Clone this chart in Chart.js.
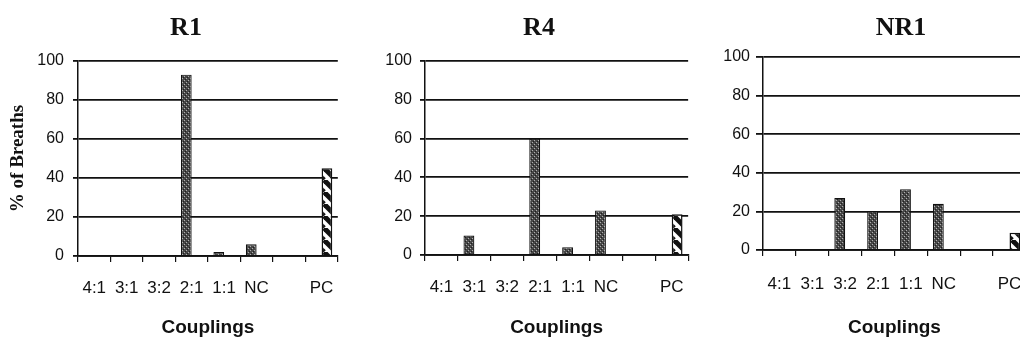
<!DOCTYPE html>
<html>
<head>
<meta charset="utf-8">
<script src="https://cdn.jsdelivr.net/npm/chart.js@4.4.1/dist/chart.umd.min.js"></script>
<style>
	html, body { margin: 0; padding: 0; background: #fff; }
	body { width: 1020px; height: 344px; overflow: hidden; position: relative; }
	canvas { position: absolute; top: 0; }
</style>
</head>
<body>
<canvas id="r1" width="350" height="344" style="left:0px"></canvas>
<canvas id="r4" width="350" height="344" style="left:350px"></canvas>
<canvas id="nr1" width="340" height="344" style="left:700px"></canvas>
<script>
// categorias (el hueco vacio antes de PC es parte del grafico original)
const couplings = ['4:1', '3:1', '3:2', '2:1', '1:1', 'NC', '', 'PC'];
const yTickValues = [0, 20, 40, 60, 80, 100];

const r1Stippled = [0, 0, 0, 93, 2, 6, null, null];
const r1Hatched  = [null, null, null, null, null, null, null, 45];

const r4Stippled = [0, 10, 0, 60, 4, 23, null, null];
const r4Hatched  = [null, null, null, null, null, null, null, 21];

const nr1Stippled = [0, 0, 27, 20, 31.5, 24, null, null];
const nr1Hatched  = [null, null, null, null, null, null, null, 9];

Chart.defaults.font.family = '"Liberation Sans", Arial, sans-serif';
Chart.defaults.color = '#111';

function stipple() {
	const c = document.createElement('canvas');
	c.width = 4; c.height = 4;
	const g = c.getContext('2d');
	g.fillStyle = '#484848';
	g.fillRect(0, 0, 4, 4);
	g.fillStyle = '#b0b0b0';
	g.fillRect(0, 0, 1, 1);
	g.fillRect(2, 2, 1, 1);
	g.fillStyle = '#1e1e1e';
	g.fillRect(3, 1, 1, 1);
	g.fillRect(1, 3, 1, 1);
	return g.createPattern(c, 'repeat');
}

function hatch() {
	const s = 12;
	const c = document.createElement('canvas');
	c.width = s; c.height = s;
	const g = c.getContext('2d');
	g.fillStyle = '#fff';
	g.fillRect(0, 0, s, s);
	g.strokeStyle = '#111';
	g.lineWidth = 5;
	for (let k = -1; k <= 1; k++) {
		g.beginPath();
		g.moveTo(k * s, 0);
		g.lineTo(k * s + s, s);
		g.stroke();
	}
	return g.createPattern(c, 'repeat');
}

const panelTitle = {
	id: 'panelTitle',
	afterDraw(chart, args, opts) {
		const ctx = chart.ctx;
		ctx.save();
		ctx.font = 'bold 26px "Liberation Serif", "Times New Roman", serif';
		ctx.fillStyle = '#111';
		ctx.textAlign = 'center';
		ctx.textBaseline = 'middle';
		ctx.fillText(opts.text, opts.x, opts.y);
		ctx.restore();
	}
};

function crearGrafico(id, titulo, stippled, hatched, cfg) {
	new Chart(document.getElementById(id), {
		type: 'bar',
		data: {
			labels: couplings,
			datasets: [{
				data: stippled,
				backgroundColor: stipple(),
				borderColor: '#111',
				borderWidth: 1.2,
				categoryPercentage: 0.66,
				barPercentage: 1
			}, {
				data: hatched,
				backgroundColor: hatch(),
				borderColor: '#111',
				borderWidth: 1.5,
				categoryPercentage: 0.66,
				barPercentage: 1
			}]
		},
		options: {
			responsive: false,
			animation: false,
			layout: { padding: { top: cfg.top, right: cfg.right, left: 0, bottom: 0 } },
			plugins: {
				legend: { display: false },
				tooltip: { enabled: false },
				panelTitle: { text: titulo, x: cfg.titleX, y: 28 }
			},
			scales: {
				x: {
					afterFit: s => { s.height = cfg.xHeight; },
					grid: { drawOnChartArea: false, color: '#111', lineWidth: 1.2, tickLength: 6 },
					border: { color: '#111', width: 1.8 },
					ticks: { font: { size: 17 }, padding: cfg.xPad, color: '#111' },
					title: {
						display: true,
						text: 'Couplings',
						font: { size: 19, weight: 'bold' },
						padding: { top: 0, bottom: 5 },
						color: '#111'
					}
				},
				y: {
					min: 0,
					max: 100,
					afterFit: s => { s.width = cfg.yWidth; },
					afterBuildTicks: s => { s.ticks = yTickValues.map(v => ({ value: v })); },
					grid: { color: '#111', lineWidth: 1.8, tickLength: cfg.yTick },
					border: { color: '#111', width: 1.5 },
					ticks: { font: { size: 16 }, padding: cfg.yPad, color: '#111' },
					title: {
						display: cfg.yTitle,
						text: '% of Breaths',
						font: { family: '"Liberation Serif", "Times New Roman", serif', size: 19, weight: 'bold' },
						padding: { top: 7, bottom: 0 },
						color: '#111'
					}
				}
			}
		},
		plugins: [panelTitle]
	});
}

crearGrafico('r1', 'R1', r1Stippled, r1Hatched,
	{ top: 61, right: 10, xHeight: 88, yWidth: 78, yTick: 5, yPad: 9, xPad: 16, titleX: 186, yTitle: true });
crearGrafico('r4', 'R4', r4Stippled, r4Hatched,
	{ top: 61, right: 8, xHeight: 89, yWidth: 75, yTick: 5, yPad: 8, xPad: 16, titleX: 189, yTitle: false });
crearGrafico('nr1', 'NR1', nr1Stippled, nr1Hatched,
	{ top: 57, right: 11, xHeight: 94, yWidth: 63, yTick: 7, yPad: 6, xPad: 18, titleX: 201, yTitle: false });
</script>
</body>
</html>
